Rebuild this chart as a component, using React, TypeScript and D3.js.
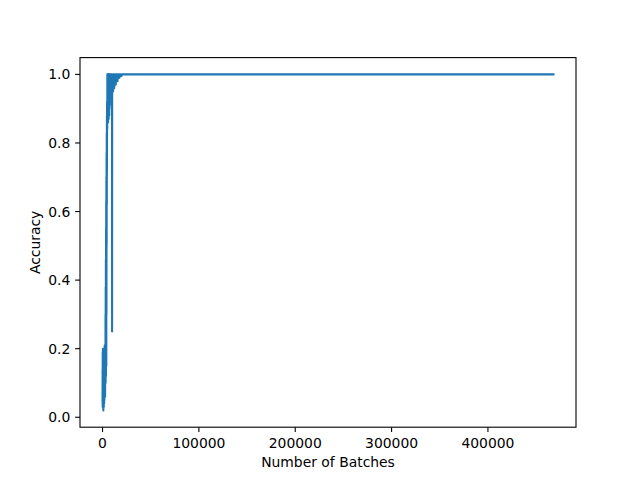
import React from "react";
import * as d3 from "d3";

const batches: number[] = [
  0, 60, 120, 180, 240, 300, 360, 420, 480, 540, 600, 660, 720, 780, 840, 900, 960, 1020, 1080, 1140,
  1200, 1260, 1320, 1380, 1440, 1500, 1560, 1620, 1680, 1740, 1800, 1860, 1920, 1980, 2040, 2100, 2160, 2220, 2280, 2340,
  2400, 2470, 2540, 2610, 2680, 2750, 2820, 2900,
  3000, 3090, 3180, 3270, 3360, 3450, 3540, 3630, 3720, 3810, 3900, 3990, 4080, 4170, 4260, 4350, 4440, 4530, 4620, 4700,
  4850, 5000, 5150, 5300, 5450, 5600, 5750, 5900, 6050, 6200, 6350, 6500, 6650, 6800, 6950, 7100, 7250, 7400,
  7600, 7800, 8000, 8200, 8400, 8600, 8800, 9000, 9200, 9400, 9600, 9800, 9900, 10000,
  10300, 10600, 10900, 11200, 11500, 11800, 12100, 12500, 12900, 13300, 13700, 14100,
  14500, 15000, 15500, 16000, 16500, 17000, 17500, 18000, 18500, 19000, 19500, 20000, 21000,
  30000, 100000, 200000, 300000, 400000, 468000,
];

const accuracy: number[] = [
  0.05, 0.14, 0.03, 0.19, 0.06, 0.11, 0.04, 0.2, 0.08, 0.16, 0.03, 0.18, 0.07, 0.13, 0.02, 0.19, 0.09, 0.15, 0.04, 0.2,
  0.06, 0.12, 0.03, 0.17, 0.05, 0.2, 0.08, 0.14, 0.04, 0.19, 0.07, 0.16, 0.05, 0.2, 0.09, 0.18, 0.06, 0.21, 0.1, 0.19,
  0.07, 0.2, 0.09, 0.18, 0.06, 0.21, 0.1, 0.2,
  0.12, 0.3, 0.1, 0.38, 0.16, 0.46, 0.12, 0.55, 0.2, 0.63, 0.15, 0.7, 0.3, 0.77, 0.5, 0.83, 0.62, 0.88, 0.72, 0.92,
  0.84, 1.0, 0.86, 0.99, 0.87, 1.0, 0.86, 1.0, 0.88, 0.99, 0.87, 1.0, 0.89, 1.0, 0.88, 0.99, 0.9, 1.0,
  0.91, 1.0, 0.92, 0.99, 0.92, 1.0, 0.93, 0.99, 0.93, 1.0, 0.94, 0.99, 0.25, 1.0,
  0.95, 0.99, 0.95, 1.0, 0.96, 1.0, 0.96, 0.99, 0.97, 1.0, 0.97, 1.0,
  0.98, 1.0, 0.98, 1.0, 0.99, 1.0, 0.99, 1.0, 0.995, 1.0, 0.995, 1.0, 1.0,
  1.0, 1.0, 1.0, 1.0, 1.0, 1.0,
];

const xTicks: number[] = [0, 100000, 200000, 300000, 400000];
const yTicks: number[] = [0.0, 0.2, 0.4, 0.6, 0.8, 1.0];
const xLabel = "Number of Batches";
const yLabel = "Accuracy";

export default function App() {
  const W = 640, H = 480;
  const left = 80, right = 576, top = 57.6, bottom = 427.2;
  const xMin = d3.min(batches)!, xMax = d3.max(batches)!;
  const yMin = d3.min(accuracy)!, yMax = d3.max(accuracy)!;
  const xPad = (xMax - xMin) * 0.05, yPad = (yMax - yMin) * 0.05;
  const x = d3.scaleLinear().domain([xMin - xPad, xMax + xPad]).range([left, right]);
  const y = d3.scaleLinear().domain([yMin - yPad, yMax + yPad]).range([bottom, top]);
  const pts: [number, number][] = batches.map((b, i) => [b, accuracy[i]]);
  const line = d3.line<[number, number]>().x((d) => x(d[0])).y((d) => y(d[1]));
  const font = "DejaVu Sans, sans-serif";
  const fs = 13.9;
  const tick = 4.86;
  return (
    <svg width={W} height={H} style={{ position: "absolute", left: 0, top: 0, background: "#fff" }}>
      <rect x={0} y={0} width={W} height={H} fill="#fff" />
      <path d={line(pts) || ""} fill="none" stroke="#1f77b4" strokeWidth={2.08} strokeLinejoin="round" strokeLinecap="square" />
      <rect x={left} y={top} width={right - left} height={bottom - top} fill="none" stroke="#000" strokeWidth={1.1} />
      {xTicks.map((t) => (
        <g key={"x" + t}>
          <line x1={x(t)} x2={x(t)} y1={bottom} y2={bottom + tick} stroke="#000" strokeWidth={1.1} />
          <text x={x(t)} y={bottom + tick + 4.86 + 10.6} textAnchor="middle" fontFamily={font} fontSize={fs}>{t}</text>
        </g>
      ))}
      {yTicks.map((t) => (
        <g key={"y" + t}>
          <line x1={left - tick} x2={left} y1={y(t)} y2={y(t)} stroke="#000" strokeWidth={1.1} />
          <text x={left - tick - 4.86} y={y(t)} dy="0.36em" textAnchor="end" fontFamily={font} fontSize={fs}>{t.toFixed(1)}</text>
        </g>
      ))}
      <text x={(left + right) / 2} y={467} textAnchor="middle" fontFamily={font} fontSize={fs}>{xLabel}</text>
      <text transform={`translate(${40},${(top + bottom) / 2}) rotate(-90)`} textAnchor="middle" fontFamily={font} fontSize={fs}>{yLabel}</text>
    </svg>
  );
}
